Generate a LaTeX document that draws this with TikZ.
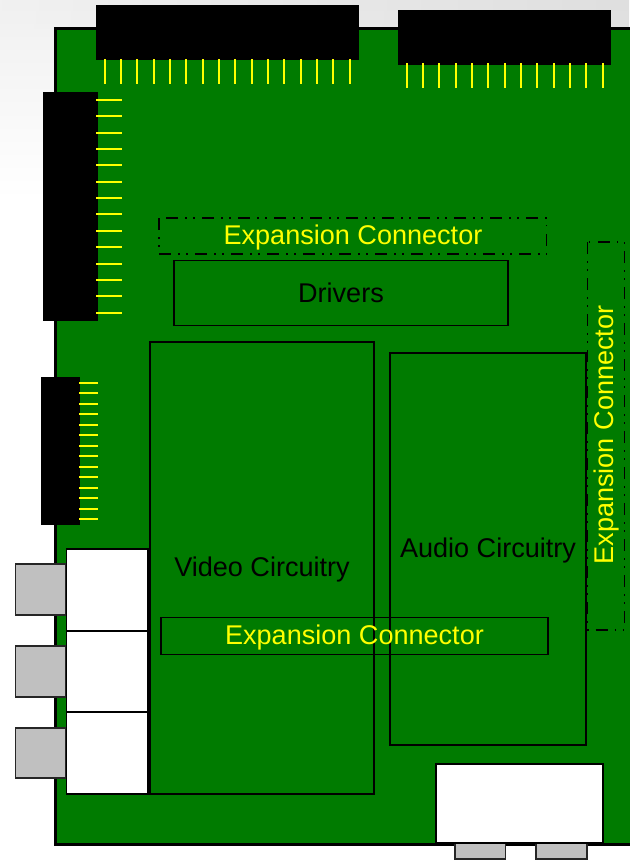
\documentclass[tikz,border=0pt]{standalone}
\usepackage{fontspec}
\setmainfont{Liberation Sans}
\definecolor{board}{HTML}{007B00}
\definecolor{plug}{HTML}{C0C0C0}
\definecolor{pin}{HTML}{FFFF00}
\tikzset{
 x=0.75pt,y=-0.75pt,
 boardshape/.style={fill=board,draw=black,line width=2.25pt},
 header/.style={fill=black},
 pinline/.style={draw=pin,line width=1.4pt},
 block/.style={draw=black,line width=1.2pt},
 thinblock/.style={draw=black,line width=0.9pt},
 socket/.style={fill=white,draw=black,line width=1.1pt},
 plugshape/.style={fill=plug,draw=black!85,line width=1pt},
 expdash/.style={draw=black,line width=0.9pt,dash pattern=on 9pt off 5.5pt on 1pt off 5pt on 1pt off 5.5pt},
 blacktext/.style={text=black,font=\fontsize{20.3pt}{24pt}\selectfont,inner sep=0pt},
 yellowtext/.style={text=pin,font=\fontsize{20.3pt}{24pt}\selectfont,inner sep=0pt},
}
\begin{document}
\begin{tikzpicture}
\useasboundingbox (0,0) rectangle (629,860);
% background
\shade[top color=black!6,bottom color=white] (0,0) rectangle (629,200);
\shade[left color=white,right color=black,opacity=0.07] (0,0) rectangle (629,28);
% board
\draw[boardshape] (640,28) -- (55.5,28) -- (55.5,844) -- (640,844);
% top headers
\fill[header] (96,5) rectangle (358.5,60);
\foreach \k in {0,...,15} {\pgfmathsetmacro{\px}{round(104.7+16.33*\k)}\draw[pinline] (\px,59) -- (\px,84);}
\fill[header] (398,10) rectangle (611,65);
\foreach \k in {0,...,12} {\pgfmathsetmacro{\px}{round(406.7+16.33*\k)}\draw[pinline] (\px,63) -- (\px,88);}
% left headers
\fill[header] (42.5,91.5) rectangle (97.5,321);
\foreach \k in {0,...,13} {\pgfmathsetmacro{\py}{round(100+16.35*\k)}\draw[pinline] (96,\py) -- (122,\py);}
\fill[header] (41,377) rectangle (80,525);
\foreach \k in {0,...,13} {\pgfmathsetmacro{\py}{round(382.7+10.5*\k)}\draw[pinline] (79,\py) -- (98,\py);}
% circuit blocks
\draw[block] (150,342) rectangle (374,794);
\draw[block] (390,353) rectangle (586,745);
\draw[block] (174,260.5) rectangle (508,325.5);
\draw[thinblock] (161,617.5) rectangle (548,654.5);
\draw[expdash] (159,218) rectangle (546.5,254);
\draw[expdash] (587.5,242) rectangle (624.5,630);
% plugs and sockets, left
\draw[plugshape] (15.5,564) rectangle (66,615);
\draw[plugshape] (15.5,646) rectangle (66,697);
\draw[plugshape] (15.5,728) rectangle (66,778);
\draw[socket] (66.5,549) rectangle (148,631);
\draw[socket] (66.5,631) rectangle (148,712);
\draw[socket] (66.5,712) rectangle (148,794);
% plugs and socket, bottom
\draw[plugshape] (455,843) rectangle (505.5,859);
\draw[plugshape] (536,843) rectangle (587,859);
\draw[socket] (436,764) rectangle (603,843);
% labels
\node[yellowtext] (exptop) at (353,237) {Expansion Connector};
\node[blacktext] (drivers) at (341,293) {Drivers};
\node[blacktext] (video) at (262,569) {Video Circuitry};
\node[blacktext] (audio) at (488,550) {Audio Circuitry};
\node[yellowtext] (expbottom) at (354.5,637) {Expansion Connector};
\node[yellowtext,rotate=90] (expright) at (606,435) {Expansion Connector};
\end{tikzpicture}
\end{document}
